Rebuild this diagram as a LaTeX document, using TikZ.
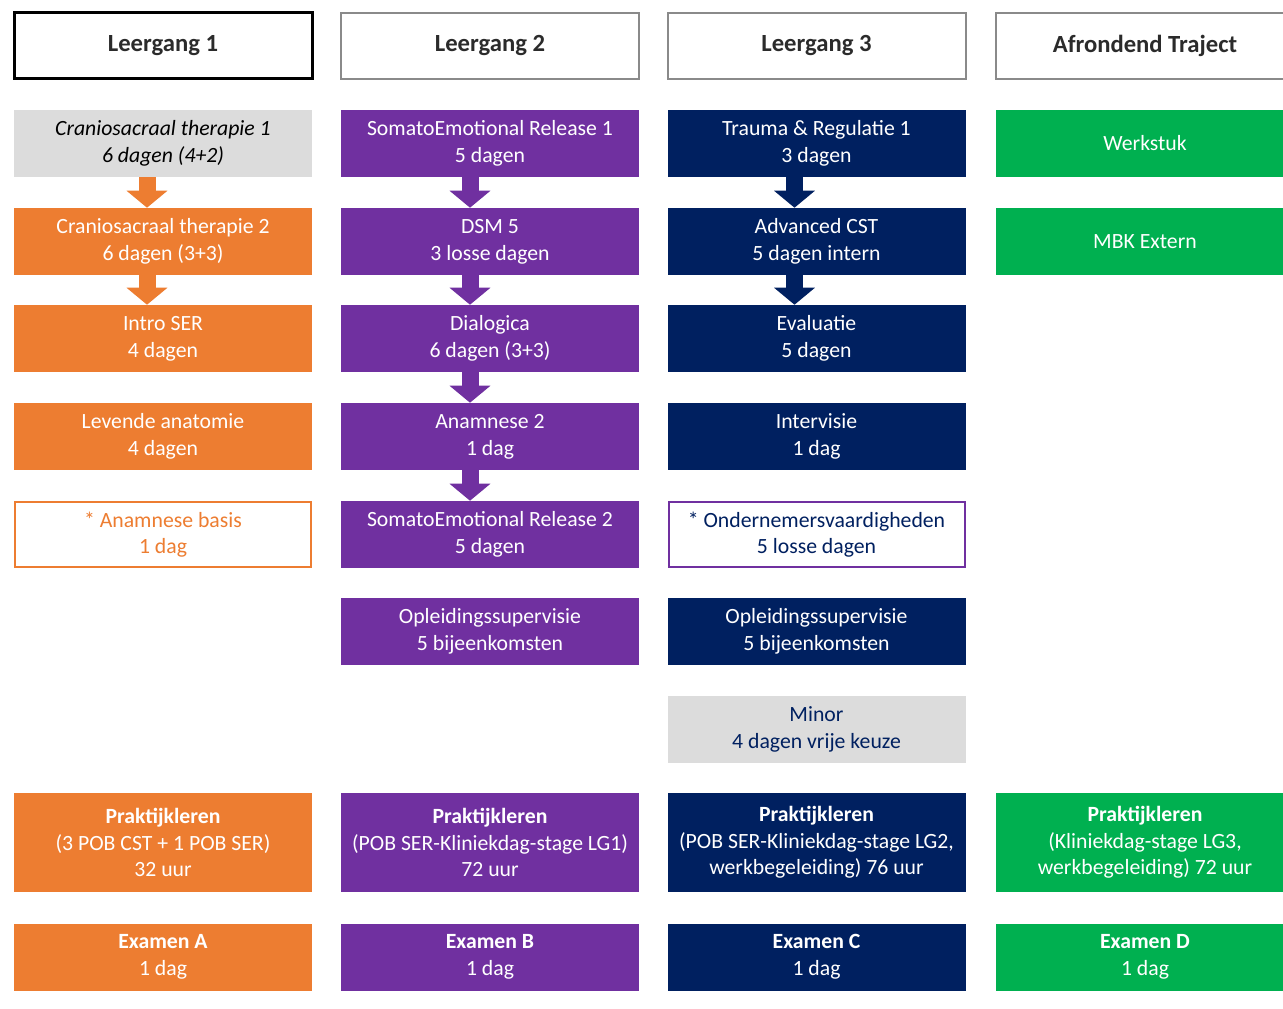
\documentclass[tikz,border=0pt]{standalone}
\usepackage{fontspec}
\setmainfont{Carlito}
\usetikzlibrary{arrows.meta}
\definecolor{cOr}{HTML}{ED7D31}
\definecolor{cPu}{HTML}{7030A0}
\definecolor{cNa}{HTML}{002060}
\definecolor{cGr}{HTML}{00B050}
\definecolor{cGy}{HTML}{DCDCDC}
\definecolor{cHd}{HTML}{2B2B2B}
\definecolor{cHb}{HTML}{8A8A8A}
\begin{document}
\begin{tikzpicture}[x=0.75pt,y=-0.75pt,
  box/.style={minimum width=223.5pt, minimum height=50.25pt, inner sep=0pt, align=center,
    font=\fontsize{16.3}{20}\selectfont, text=white},
  tallbox/.style={box, minimum height=74.25pt},
  hdr/.style={minimum width=223.5pt, minimum height=49.5pt, inner sep=0pt, align=center,
    font=\fontsize{18.5}{22}\selectfont\bfseries, text=cHd, fill=white},
  hdrblack/.style={hdr, draw=black, line width=2.25pt},
  hdrgray/.style={hdr, draw=cHb, line width=1.5pt},
  orbox/.style={box, fill=cOr},
  pubox/.style={box, fill=cPu},
  nabox/.style={box, fill=cNa},
  grbox/.style={box, fill=cGr},
  flow/.style={line width=12.75pt, -{Triangle[width=30pt,length=12.75pt]}},
]
\path[use as bounding box, clip] (0,0) rectangle (1283,1009);
\fill[white] (0,0) rectangle (1283,1009);

% headers
\node[hdrblack] (h1) at (163,46) {Leergang 1};
\node[hdrgray]  (h2) at (490,46) {Leergang 2};
\node[hdrgray]  (h3) at (816.5,46) {Leergang 3};
\node[hdrgray]  (h4) at (1145,46) {Afrondend Traject};

% column 1
\node[box, fill=cGy, text=black, font=\fontsize{16.3}{20}\selectfont\itshape] (a1) at (163,143.5) {Craniosacraal therapie 1\\6 dagen (4+2)};
\node[orbox] (a2) at (163,241.5) {Craniosacraal therapie 2\\6 dagen (3+3)};
\node[orbox] (a3) at (163,338.5) {Intro SER\\4 dagen};
\node[orbox] (a4) at (163,436.5) {Levende anatomie\\4 dagen};
\node[box, fill=white, draw=cOr, line width=1.5pt, text=cOr, minimum width=222pt, minimum height=48.75pt] (a5) at (163,534.5) {* Anamnese basis\\1 dag};

% column 2
\node[pubox] (b1) at (490,143.5) {SomatoEmotional Release 1\\5 dagen};
\node[pubox] (b2) at (490,241.5) {DSM 5\\3 losse dagen};
\node[pubox] (b3) at (490,338.5) {Dialogica\\6 dagen (3+3)};
\node[pubox] (b4) at (490,436.5) {Anamnese 2\\1 dag};
\node[pubox] (b5) at (490,534.5) {SomatoEmotional Release 2\\5 dagen};
\node[pubox] (b6) at (490,631.5) {Opleidingssupervisie\\5 bijeenkomsten};

% column 3
\node[nabox] (c1) at (816.5,143.5) {Trauma \& Regulatie 1\\3 dagen};
\node[nabox] (c2) at (816.5,241.5) {Advanced CST\\5 dagen intern};
\node[nabox] (c3) at (816.5,338.5) {Evaluatie\\5 dagen};
\node[nabox] (c4) at (816.5,436.5) {Intervisie\\1 dag};
\node[box, fill=white, draw=cPu, line width=1.5pt, text=cNa, minimum width=222pt, minimum height=48.75pt] (c5) at (816.5,534.5) {* Ondernemersvaardigheden\\5 losse dagen};
\node[nabox] (c6) at (816.5,631.5) {Opleidingssupervisie\\5 bijeenkomsten};
\node[box, fill=cGy, text=cNa] (c7) at (816.5,729.5) {Minor\\4 dagen vrije keuze};

% column 4
\node[grbox] (d1) at (1145,143.5) {Werkstuk};
\node[grbox] (d2) at (1145,241.5) {MBK Extern};

% praktijk
\node[tallbox, fill=cOr] (pa) at (163,842.5) {\textbf{Praktijkleren}\\(3 POB CST + 1 POB SER)\\32 uur};
\node[tallbox, fill=cPu] (pb) at (490,842.5) {\textbf{Praktijkleren}\\(POB SER-Kliniekdag-stage LG1)\\72 uur};
\node[tallbox, fill=cNa] (pc) at (816.5,842.5) {\textbf{Praktijkleren}\\(POB SER-Kliniekdag-stage LG2,\\werkbegeleiding) 76 uur};
\node[tallbox, fill=cGr] (pd) at (1145,842.5) {\textbf{Praktijkleren}\\(Kliniekdag-stage LG3,\\werkbegeleiding) 72 uur};

% examens
\node[orbox] (ea) at (163,957) {\textbf{Examen A}\\1 dag};
\node[pubox] (eb) at (490,957) {\textbf{Examen B}\\1 dag};
\node[nabox] (ec) at (816.5,957) {\textbf{Examen C}\\1 dag};
\node[grbox] (ed) at (1145,957) {\textbf{Examen D}\\1 dag};

% arrows
\draw[flow, cOr] ([xshift=-12pt]a1.south) -- ([xshift=-12pt]a2.north);
\draw[flow, cOr] ([xshift=-12pt]a2.south) -- ([xshift=-12pt]a3.north);
\draw[flow, cPu] ([xshift=-15pt]b1.south) -- ([xshift=-15pt]b2.north);
\draw[flow, cPu] ([xshift=-15pt]b2.south) -- ([xshift=-15pt]b3.north);
\draw[flow, cPu] ([xshift=-15pt]b3.south) -- ([xshift=-15pt]b4.north);
\draw[flow, cPu] ([xshift=-15pt]b4.south) -- ([xshift=-15pt]b5.north);
\draw[flow, cNa] ([xshift=-16.5pt]c1.south) -- ([xshift=-16.5pt]c2.north);
\draw[flow, cNa] ([xshift=-16.5pt]c2.south) -- ([xshift=-16.5pt]c3.north);
\end{tikzpicture}
\end{document}
